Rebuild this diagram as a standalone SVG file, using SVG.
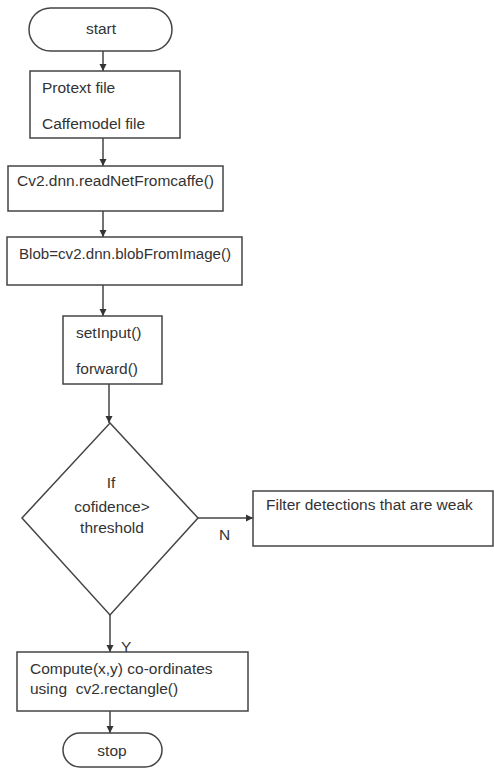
<svg xmlns="http://www.w3.org/2000/svg" width="494" height="768" viewBox="0 0 494 768">
<defs>
<marker id="ah" markerWidth="8" markerHeight="8" refX="7" refY="4" orient="auto" markerUnits="userSpaceOnUse">
<path d="M0,0.5 L7,4 L0,7.5 Z" fill="#333"/>
</marker>
<style>
.n{fill:#fff;stroke:#444;stroke-width:1.5}
.t{font-family:"Liberation Sans",Arial,sans-serif;font-size:15.5px;fill:#333;white-space:pre}
.c{text-anchor:middle}
.e{fill:none;stroke:#444;stroke-width:1.5;marker-end:url(#ah)}
</style>
</defs>
<rect width="494" height="768" fill="#fff"/>
<g id="connectors">
<line class="e" x1="103" y1="51" x2="103" y2="71"/>
<line class="e" x1="103" y1="138" x2="103" y2="166"/>
<line class="e" x1="103" y1="211" x2="103" y2="237"/>
<line class="e" x1="103" y1="285" x2="103" y2="316"/>
<line class="e" x1="109" y1="384" x2="109" y2="423"/>
<line class="e" x1="198" y1="518" x2="253" y2="518"/>
<line class="e" x1="110" y1="615" x2="110" y2="652"/>
<line class="e" x1="110" y1="711" x2="110" y2="733"/>
<text class="t" x="219" y="540">N</text>
<text class="t" x="121" y="652">Y</text>
</g>
<g id="start">
<rect class="n" x="29" y="8" width="143" height="43" rx="21.5"/>
<text class="t c" x="101" y="34">start</text>
</g>
<g id="files">
<rect class="n" x="30" y="71" width="150" height="67"/>
<text class="t" x="42" y="93">Protext file</text>
<text class="t" x="42" y="129">Caffemodel file</text>
</g>
<g id="readnet">
<rect class="n" x="8" y="166" width="215" height="45"/>
<text class="t" x="17" y="186">Cv2.dnn.readNetFromcaffe()</text>
</g>
<g id="blob">
<rect class="n" x="7" y="237" width="235" height="48"/>
<text class="t" x="19" y="259" textLength="212" lengthAdjust="spacingAndGlyphs">Blob=cv2.dnn.blobFromImage()</text>
</g>
<g id="setinput">
<rect class="n" x="63" y="316" width="99" height="68"/>
<text class="t" x="76" y="338">setInput()</text>
<text class="t" x="76" y="374">forward()</text>
</g>
<g id="decision">
<polygon class="n" points="110,423 198,518 110,615 22,518"/>
<text class="t c" x="111" y="488">If</text>
<text class="t c" x="112" y="512">cofidence&gt;</text>
<text class="t c" x="112" y="533">threshold</text>
</g>
<g id="filter">
<rect class="n" x="253" y="491" width="240" height="55"/>
<text class="t" x="266" y="510">Filter detections that are weak</text>
</g>
<g id="compute">
<rect class="n" x="17" y="652" width="231" height="59"/>
<text class="t" x="30" y="674">Compute(x,y) co-ordinates</text>
<text class="t" x="30" y="694">using  cv2.rectangle()</text>
</g>
<g id="stop">
<rect class="n" x="63" y="733" width="99" height="34" rx="17"/>
<text class="t c" x="112" y="756">stop</text>
</g>
</svg>
